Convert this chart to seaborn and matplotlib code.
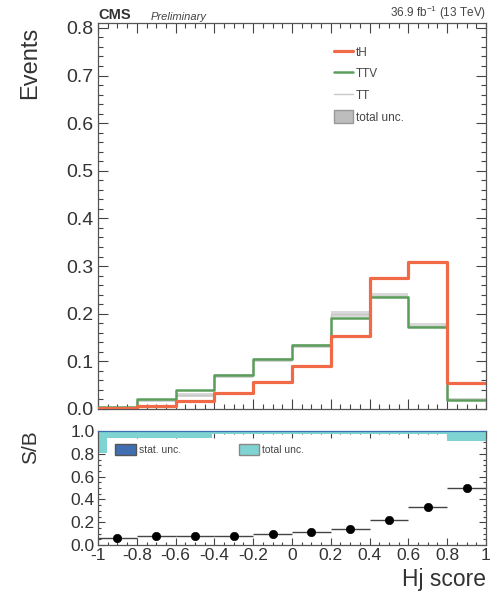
import numpy as np
import pandas as pd
import matplotlib
matplotlib.use("Agg")
import matplotlib.pyplot as plt
import seaborn as sns
from matplotlib.ticker import MultipleLocator
from matplotlib.patches import Patch
from matplotlib.lines import Line2D

# Binning of the Hj score discriminant
bin_edges = [-1.0, -0.8, -0.6, -0.4, -0.2, 0.0, 0.2, 0.4, 0.6, 0.8, 1.0]
bin_centers = [-0.9, -0.7, -0.5, -0.3, -0.1, 0.1, 0.3, 0.5, 0.7, 0.9]

# Normalised shapes per process
tH = [0.003, 0.007, 0.016, 0.033, 0.056, 0.090, 0.154, 0.276, 0.309, 0.054]
TTV = [0.004, 0.021, 0.039, 0.072, 0.105, 0.135, 0.192, 0.235, 0.173, 0.018]
TT = [0.003, 0.018, 0.029, 0.070, 0.103, 0.133, 0.200, 0.238, 0.175, 0.020]
TT_unc = [0.002, 0.003, 0.004, 0.004, 0.004, 0.004, 0.006, 0.006, 0.005, 0.003]

# Signal over background ratio
sb_ratio = [0.065, 0.082, 0.076, 0.082, 0.094, 0.118, 0.144, 0.218, 0.332, 0.500]

# Relative uncertainty band in the ratio panel
unc_edges = [-1.0, -0.955, -0.41, 0.8, 1.0]
unc_total_low = [0.81, 0.94, 0.97, 0.91]
unc_stat_low = [0.99, 0.993, 0.996, 0.99]

sns.set_theme(style="ticks")
plt.rcParams["font.family"] = ["Liberation Sans", "DejaVu Sans"]
plt.rcParams["mathtext.fontset"] = "custom"
plt.rcParams["mathtext.rm"] = "Liberation Sans"

RED = "#f06a48"
GREEN = "#5b9e5b"
GRAY = "#c8c8c8"

fig = plt.figure(figsize=(4.91, 5.93), dpi=100)
ax = fig.add_axes([0.1996, 0.3103, 0.7902, 0.6507])
axr = fig.add_axes([0.1996, 0.0809, 0.7902, 0.1922])

df = pd.DataFrame({"center": bin_centers * 3,
                   "w": tH + TTV + TT,
                   "proc": ["tH"] * 10 + ["TTV"] * 10 + ["TT"] * 10})

# Total uncertainty band around TT
lo = np.array(TT) - np.array(TT_unc)
hi = np.array(TT) + np.array(TT_unc)
ax.stairs(hi, bin_edges, baseline=lo, fill=True, color="#d9d9d9", lw=0, zorder=1)

sns.histplot(data=df[df.proc == "TT"], x="center", weights="w", bins=bin_edges,
             element="step", fill=False, color=GRAY, lw=1.0, ax=ax, zorder=2)
sns.histplot(data=df[df.proc == "TTV"], x="center", weights="w", bins=bin_edges,
             element="step", fill=False, color=GREEN, lw=1.8, ax=ax, zorder=3)
sns.histplot(data=df[df.proc == "tH"], x="center", weights="w", bins=bin_edges,
             element="step", fill=False, color=RED, lw=2.3, ax=ax, zorder=4)

ax.set_xlim(-1, 1)
ax.set_ylim(0, 0.81)
ax.set_xlabel("")
ax.set_ylabel("")
ax.set_xticklabels([])
ax.xaxis.set_major_locator(MultipleLocator(0.2))
ax.xaxis.set_minor_locator(MultipleLocator(0.05))
ax.yaxis.set_major_locator(MultipleLocator(0.1))
ax.yaxis.set_minor_locator(MultipleLocator(0.02))
ax.tick_params(which="both", direction="in", top=True, right=True, labelsize=14,
               colors="#444444", labelcolor="#333333")
ax.tick_params(which="major", length=7, width=0.8, pad=3)
ax.tick_params(which="minor", length=3.5, width=0.8)
ax.set_yticks(np.arange(0, 0.81, 0.1))
ax.set_yticklabels([f"{v:.1f}" for v in np.arange(0, 0.81, 0.1)])
for s in ax.spines.values():
    s.set_color("#555555")
    s.set_linewidth(0.9)

fig.text(0.062, 0.955, "Events", rotation=90, ha="center", va="top",
         fontsize=17, color="#333333")
ax.text(0.0, 1.004, "CMS", transform=ax.transAxes, ha="left", va="bottom",
        fontsize=10.5, fontweight="bold", color="#333333")
ax.text(0.135, 1.004, "Preliminary", transform=ax.transAxes, ha="left", va="bottom",
        fontsize=8, style="italic", color="#444444")
ax.text(1.0, 1.004, r"36.9 fb$^{-1}$ (13 TeV)", transform=ax.transAxes,
        ha="right", va="bottom", fontsize=8.5, color="#444444")

handles = [Line2D([], [], color=RED, lw=2.3),
           Line2D([], [], color=GREEN, lw=1.8),
           Line2D([], [], color=GRAY, lw=1.0),
           Patch(facecolor="#bdbdbd", edgecolor="#999999")]
ax.legend(handles, ["tH", "TTV", "TT", "total unc."], loc="upper left",
          bbox_to_anchor=(0.58, 0.97), frameon=False, fontsize=8.5,
          handlelength=1.6, handleheight=1.3, labelspacing=0.7,
          handletextpad=0.3, labelcolor="#444444")

# Ratio panel
axr.stairs([1.05] * 4, unc_edges, baseline=unc_total_low, fill=True,
           color="#7fd3d3", lw=0, zorder=1)
axr.stairs([1.05] * 4, unc_edges, baseline=unc_stat_low, fill=True,
           color="#3f6fb0", lw=0, zorder=2)
sns.scatterplot(x=bin_centers, y=sb_ratio, color="black", s=36, edgecolor="black",
                ax=axr, zorder=5)
axr.errorbar(bin_centers, sb_ratio, xerr=0.1, fmt="none", ecolor="#444444",
             elinewidth=1.0, zorder=4)

axr.set_xlim(-1, 1)
axr.set_ylim(0, 1.0)
axr.xaxis.set_major_locator(MultipleLocator(0.2))
axr.xaxis.set_minor_locator(MultipleLocator(0.05))
axr.yaxis.set_major_locator(MultipleLocator(0.2))
axr.yaxis.set_minor_locator(MultipleLocator(0.05))
axr.set_xticks(np.round(np.arange(-1, 1.01, 0.2), 1))
axr.set_xticklabels(["-1", "-0.8", "-0.6", "-0.4", "-0.2", "0", "0.2", "0.4",
                     "0.6", "0.8", "1"])
axr.set_yticks(np.round(np.arange(0, 1.01, 0.2), 1))
axr.set_yticklabels([f"{v:.1f}" for v in np.arange(0, 1.01, 0.2)])
axr.tick_params(which="both", direction="in", top=True, right=True, labelsize=12.5,
                colors="#444444", labelcolor="#333333")
axr.tick_params(which="major", length=5, width=0.8, pad=2.5)
axr.tick_params(which="minor", length=2.5, width=0.8)
for s in axr.spines.values():
    s.set_color("#555555")
    s.set_linewidth(0.9)
axr.spines["top"].set_color("#3f6fb0")

fig.text(0.062, 0.275, "S/B", rotation=90, ha="center", va="top",
         fontsize=15, color="#333333")
fig.text(0.99, 0.003, "Hj score", ha="right", va="bottom", fontsize=16.5,
         color="#333333")

rh = [Patch(facecolor="#3f6fb0", edgecolor="#555555"),
      Patch(facecolor="#7fd3d3", edgecolor="#888888")]
axr.legend(rh, ["stat. unc.", "total unc."], loc="upper left", ncol=2,
           bbox_to_anchor=(0.02, 0.97), frameon=False, fontsize=7.5,
           handlelength=2.0, handleheight=1.3, columnspacing=5.5,
           handletextpad=0.3, labelcolor="#444444")

fig.savefig("out.png", dpi=100)
